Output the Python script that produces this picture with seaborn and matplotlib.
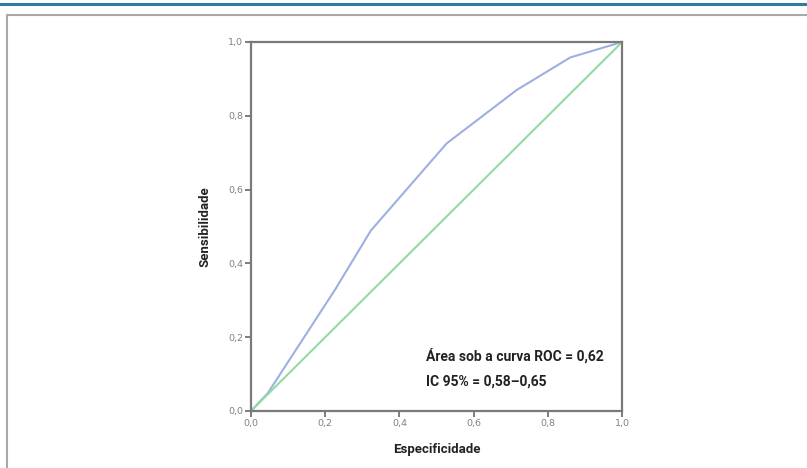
import matplotlib
matplotlib.use("Agg")
import matplotlib.pyplot as plt
import seaborn as sns
import pandas as pd
from matplotlib.lines import Line2D
from matplotlib.font_manager import fontManager

# ROC curve points (1 - specificity, sensitivity)
fpr = [0.0, 0.045, 0.226, 0.323, 0.527, 0.716, 0.86, 1.0]
tpr = [0.0, 0.048, 0.328, 0.489, 0.725, 0.870, 0.958, 1.0]
ref_x = [0.0, 1.0]
ref_y = [0.0, 1.0]
ticks = [0.0, 0.2, 0.4, 0.6, 0.8, 1.0]
tick_labels = ["0,0", "0,2", "0,4", "0,6", "0,8", "1,0"]
auc_text = "Área sob a curva ROC = 0,62\nIC 95% = 0,58–0,65"

sns.set_theme(style="white")
names = {f.name for f in fontManager.ttflist}
bold_font = ["Liberation Sans Narrow", "DejaVu Sans"] if "Liberation Sans Narrow" in names else ["Roboto", "DejaVu Sans"]
plt.rcParams['font.family'] = ["DejaVu Sans"]

fig = plt.figure(figsize=(8.07, 4.68), dpi=100)
ax = fig.add_axes([0.311, 0.1218, 0.46, 0.7885])

roc = pd.DataFrame({"fpr": fpr, "tpr": tpr})
diag = pd.DataFrame({"x": ref_x, "y": ref_y})
sns.lineplot(data=roc, x="fpr", y="tpr", ax=ax, color="#9fafe2", linewidth=1.5, sort=False)
sns.lineplot(data=diag, x="x", y="y", ax=ax, color="#93dba0", linewidth=1.5)

ax.set_xlim(0, 1)
ax.set_ylim(0, 1)
ax.set_xticks(ticks)
ax.set_xticklabels(tick_labels)
ax.set_yticks(ticks)
ax.set_yticklabels(tick_labels)
ax.tick_params(axis="both", which="both", direction="out", length=4, width=1.2,
               color="#666666", labelsize=6.8, labelcolor="#808080", pad=1.5,
               bottom=True, left=True)
for s in ax.spines.values():
    s.set_color("#7a7a7a")
    s.set_linewidth(1.6)

ax.set_xlabel("Especificidade", fontsize=9.5, fontweight="bold", family=bold_font,
              color="#222222", labelpad=11)
ax.set_ylabel("Sensibilidade", fontsize=9.5, fontweight="bold", family=bold_font,
              color="#222222", labelpad=12)

ax.text(0.472, 0.115, auc_text, transform=ax.transAxes, fontsize=10,
        fontweight="bold", family=bold_font, color="#222222", va="center",
        ha="left", linespacing=1.95)

# page decoration: teal rule and frame border
fig.add_artist(Line2D([0, 1], [1 - 4 / 468, 1 - 4 / 468], transform=fig.transFigure,
                      color="#2b7d9c", linewidth=2.2))
fig.add_artist(Line2D([7 / 807, 7 / 807, 1], [0, 1 - 15 / 468, 1 - 15 / 468],
                      transform=fig.transFigure, color="#a8a8a8", linewidth=1.5))

fig.savefig("out.png", dpi=100)
